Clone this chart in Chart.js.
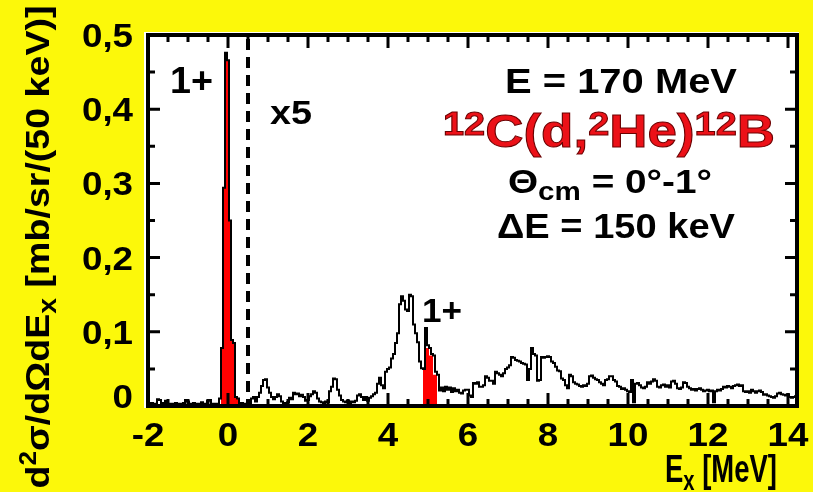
<!DOCTYPE html>
<html lang="en">
<head>
<meta charset="UTF-8">
<title>12C(d,2He)12B spectrum</title>
<script src="https://cdn.jsdelivr.net/npm/chart.js"></script>
<style>
body { margin: 0; background: #fcf80a; }
#spectrum { display: block; }
</style>
</head>
<body>
<canvas id="spectrum" width="813" height="492"></canvas>
<script>
// 50 keV bins centred on multiples of 50 keV (right of 0.5 MeV already scaled x5)
const binWidth = 0.05;
const firstBin = -1.975;

const binsM2to0 = [
  0.003,0.002,0.004,0.002,0.003,0.009,0.008,0.002,0.004,0.007,
  0.003,0.002,0.003,0.002,0.004,0.003,0.002,0.003,0.004,0.008,
  0.006,0.003,0.002,0.004,0.003,0.002,0.003,0.005,0.003,0.002,
  0.007,0.008,0.003,0.002,0.003,0.002,0.010,0.078,0.294,0.476];
const bins0to2 = [
  0.466,0.250,0.089,0.085,0.012,0.010,0.003,0.004,0.002,0.003,
  0.006,0.003,0.010,0.012,0.006,0.012,0.018,0.027,0.035,0.036,
  0.025,0.018,0.012,0.009,0.012,0.016,0.013,0.006,0.004,0.003,
  0.005,0.011,0.009,0.018,0.016,0.017,0.013,0.015,0.012,0.007];
const bins2to4 = [
  0.008,0.013,0.016,0.020,0.018,0.010,0.006,0.005,0.004,0.006,
  0.005,0.020,0.026,0.037,0.036,0.022,0.014,0.008,0.006,0.005,
  0.007,0.004,0.006,0.005,0.007,0.014,0.016,0.012,0.008,0.012,
  0.007,0.011,0.013,0.016,0.018,0.030,0.038,0.028,0.024,0.046];
const bins4to6 = [
  0.050,0.052,0.064,0.070,0.085,0.098,0.137,0.148,0.142,0.130,
  0.128,0.150,0.148,0.110,0.098,0.086,0.060,0.051,0.050,0.105,
  0.082,0.078,0.070,0.068,0.046,0.042,0.021,0.025,0.020,0.026,
  0.022,0.025,0.019,0.024,0.020,0.022,0.018,0.017,0.021,0.022];
const bins6to8 = [
  0.022,0.014,0.012,0.031,0.030,0.032,0.026,0.026,0.028,0.040,
  0.038,0.034,0.034,0.030,0.046,0.044,0.042,0.040,0.044,0.050,
  0.052,0.055,0.066,0.065,0.062,0.061,0.060,0.058,0.057,0.056,
  0.035,0.050,0.078,0.070,0.068,0.034,0.035,0.066,0.065,0.066];
const bins8to10 = [
  0.067,0.066,0.060,0.058,0.053,0.048,0.047,0.037,0.035,0.028,
  0.024,0.042,0.040,0.032,0.030,0.029,0.027,0.026,0.028,0.027,
  0.030,0.040,0.041,0.038,0.036,0.035,0.032,0.030,0.028,0.035,
  0.036,0.040,0.040,0.035,0.033,0.027,0.026,0.023,0.024,0.022];
const bins10to12 = [
  0.020,0.019,0.035,0.005,0.030,0.031,0.028,0.025,0.024,0.026,
  0.032,0.030,0.033,0.036,0.034,0.026,0.025,0.028,0.029,0.026,
  0.028,0.025,0.033,0.034,0.030,0.024,0.023,0.025,0.032,0.031,
  0.026,0.024,0.022,0.023,0.021,0.023,0.024,0.022,0.020,0.021];
const bins12to14 = [
  0.022,0.020,0.021,0.005,0.020,0.022,0.021,0.023,0.026,0.025,
  0.027,0.026,0.024,0.027,0.028,0.029,0.027,0.028,0.020,0.019,
  0.020,0.018,0.022,0.020,0.018,0.020,0.021,0.019,0.015,0.016,
  0.014,0.013,0.012,0.011,0.013,0.017,0.018,0.016,0.015,0.014];
const bins14up = [0.016,0.012,0.011,0.012,0.013];

// ground state 1+ (red, same bins as spectrum)
const groundStateFrom = -0.175;
const groundStateTo = 0.325;
// 1+ component near 5 MeV (red area under the spectrum)
const peak5Start = 4.875;
const peak5Values = [0.048,0.050,0.078,0.078,0.068,0.068,0.042,0.042];

const xTicks = [-2, 0, 2, 4, 6, 8, 10, 12, 14];
const yTicks = [0, 0.1, 0.2, 0.3, 0.4, 0.5];
const yTickLabels = ['0', '0,1', '0,2', '0,3', '0,4', '0,5'];
const scaleChange = 0.5; // x5 starts here

const paper = '#fcf80a';
const family = '"Liberation Sans", Arial, Helvetica, sans-serif';

const allBins = [].concat(binsM2to0, bins0to2, bins2to4, bins4to6, bins6to8,
                          bins8to10, bins10to12, bins12to14, bins14up);

function binStart(i, start) {
  return Math.round((start + i * binWidth) * 1000) / 1000;
}

function histPoints(values, start) {
  const pts = values.map((v, i) => ({x: binStart(i, start), y: v}));
  pts.push({x: binStart(values.length, start), y: values[values.length - 1]});
  return pts;
}

function areaPoints(values, start) {
  const pts = values.map((v, i) => ({x: binStart(i, start), y: v}));
  pts.push({x: binStart(values.length, start), y: 0});
  return pts;
}

const spectrum = histPoints(allBins, firstBin);
const gsIdx0 = Math.round((groundStateFrom - firstBin) / binWidth);
const gsIdx1 = Math.round((groundStateTo - firstBin) / binWidth);
const groundState = areaPoints(allBins.slice(gsIdx0, gsIdx1), groundStateFrom);
const peak5 = areaPoints(peak5Values, peak5Start);

// text drawn in runs so that super/subscripts can change size and offset
function drawRuns(ctx, runs, x, y, opts = {}) {
  ctx.save();
  let total = 0;
  const widths = runs.map(r => {
    ctx.font = `bold ${r.size}px ${family}`;
    const w = ctx.measureText(r.text).width;
    total += w;
    return w;
  });
  const sx = opts.width ? opts.width / total : (opts.stretch || 1);
  ctx.translate(x, y);
  if (opts.angle) ctx.rotate(opts.angle);
  ctx.scale(sx, 1);
  ctx.textAlign = 'left';
  ctx.textBaseline = 'alphabetic';
  let cx = opts.align === 'center' ? -total / 2 : opts.align === 'right' ? -total : 0;
  runs.forEach((r, i) => {
    ctx.font = `bold ${r.size}px ${family}`;
    ctx.fillStyle = opts.color || '#000';
    ctx.fillText(r.text, cx, r.dy || 0);
    if (opts.outline) {
      ctx.lineWidth = opts.outlineWidth || 1;
      ctx.strokeStyle = opts.outline;
      ctx.strokeText(r.text, cx, r.dy || 0);
    }
    cx += widths[i];
  });
  ctx.restore();
}

const frame = {
  id: 'frame',
  beforeDraw(chart) {
    const {ctx, chartArea: a} = chart;
    ctx.save();
    ctx.fillStyle = paper;
    ctx.fillRect(0, 0, chart.width, chart.height);
    ctx.fillStyle = '#fff';
    ctx.fillRect(a.left - 4, a.top - 3, a.right - a.left + 6, a.bottom - a.top + 5);
    ctx.restore();
  },
  afterDatasetsDraw(chart) {
    const {ctx, chartArea: a} = chart;
    const xs = chart.scales.x, ys = chart.scales.y;
    ctx.save();

    // dashed line where the x5 part begins
    const xd = xs.getPixelForValue(scaleChange);
    ctx.strokeStyle = '#000';
    ctx.lineWidth = 4;
    ctx.setLineDash([11, 7]);
    ctx.beginPath();
    ctx.moveTo(xd, a.top + 4);
    ctx.lineTo(xd, a.bottom);
    ctx.stroke();
    ctx.setLineDash([]);

    // inward ticks on all four sides
    ctx.lineWidth = 3;
    ctx.lineCap = 'butt';
    ctx.beginPath();
    for (let v = -2; v <= 14.001; v += 0.5) {
      const px = xs.getPixelForValue(v);
      const len = Math.abs(v % 2) < 1e-6 ? 13 : 7;
      ctx.moveTo(px, a.bottom); ctx.lineTo(px, a.bottom - len);
      ctx.moveTo(px, a.top); ctx.lineTo(px, a.top + len);
    }
    for (let k = 0; k <= 10; k++) {
      const py = ys.getPixelForValue(k * 0.05);
      const len = k % 2 === 0 ? 12 : 7;
      ctx.moveTo(a.left, py); ctx.lineTo(a.left + len, py);
      ctx.moveTo(a.right, py); ctx.lineTo(a.right - len, py);
    }
    ctx.stroke();

    // frame
    ctx.lineWidth = 4;
    ctx.strokeRect(a.left, a.top, a.right - a.left, a.bottom - a.top);
    ctx.restore();

    // tick labels
    xTicks.forEach(v => {
      drawRuns(ctx, [{text: String(v), size: 34}], xs.getPixelForValue(v), 446,
               {align: 'center', stretch: 1.08});
    });
    yTicks.forEach((v, i) => {
      const py = ys.getPixelForValue(v);
      drawRuns(ctx, [{text: yTickLabels[i], size: 34}], 133, v === 0 ? py + 2 : py + 12,
               {align: 'right', stretch: 1.08});
    });

    // axis titles
    drawRuns(ctx, [
      {text: 'E', size: 38},
      {text: 'x', size: 28, dy: 8},
      {text: ' [MeV]', size: 38}
    ], 777, 482, {align: 'right', width: 112});
    drawRuns(ctx, [
      {text: 'd', size: 33},
      {text: '2', size: 23, dy: -13},
      {text: 'σ/dΩdE', size: 33},
      {text: 'x', size: 25, dy: 7},
      {text: ' [mb/sr/(50 keV)]', size: 33}
    ], 49, 247, {align: 'center', angle: -Math.PI / 2, width: 483});

    // annotations
    drawRuns(ctx, [{text: '1+', size: 36}], 170, 93, {width: 43});
    drawRuns(ctx, [{text: 'x5', size: 34}], 270, 124, {width: 42});
    drawRuns(ctx, [{text: '1+', size: 34}], 422, 322, {width: 40});
    drawRuns(ctx, [{text: 'E = 170 MeV', size: 35}], 505, 93, {width: 232});
    drawRuns(ctx, [
      {text: '12', size: 33, dy: -12},
      {text: 'C(d,', size: 46},
      {text: '2', size: 33, dy: -12},
      {text: 'He)', size: 46},
      {text: '12', size: 33, dy: -12},
      {text: 'B', size: 46}
    ], 443, 147, {width: 332, color: '#ec1118', outline: '#6a0000', outlineWidth: 1});
    drawRuns(ctx, [
      {text: 'Θ', size: 34},
      {text: 'cm', size: 26, dy: 7},
      {text: ' = 0°-1°', size: 34}
    ], 508, 193, {width: 204});
    drawRuns(ctx, [{text: 'ΔE = 150 keV', size: 35}], 497, 238, {width: 238});
  }
};

new Chart(document.getElementById('spectrum'), {
  type: 'line',
  data: {
    datasets: [
      {
        data: spectrum,
        borderColor: '#000',
        borderWidth: 2,
        stepped: 'after',
        pointRadius: 0,
        fill: false,
        order: 0
      },
      {
        data: groundState,
        borderWidth: 0,
        borderColor: 'rgba(0,0,0,0)',
        backgroundColor: '#ff0000',
        stepped: 'after',
        pointRadius: 0,
        fill: 'origin',
        order: 1
      },
      {
        data: peak5,
        borderWidth: 0,
        borderColor: 'rgba(0,0,0,0)',
        backgroundColor: '#ff0000',
        stepped: 'after',
        pointRadius: 0,
        fill: 'origin',
        order: 1
      }
    ]
  },
  options: {
    responsive: false,
    animation: false,
    parsing: false,
    layout: {padding: {left: 0, right: 16, top: 35, bottom: 0}},
    plugins: {legend: {display: false}, tooltip: {enabled: false}},
    scales: {
      x: {
        type: 'linear',
        min: -2,
        max: 14.225,
        grid: {display: false},
        border: {display: false},
        ticks: {display: false},
        afterFit(scale) { scale.height = 86; }
      },
      y: {
        min: 0,
        max: 0.5,
        grid: {display: false},
        border: {display: false},
        ticks: {display: false},
        afterFit(scale) { scale.width = 148; }
      }
    }
  },
  plugins: [frame]
});
</script>
</body>
</html>
